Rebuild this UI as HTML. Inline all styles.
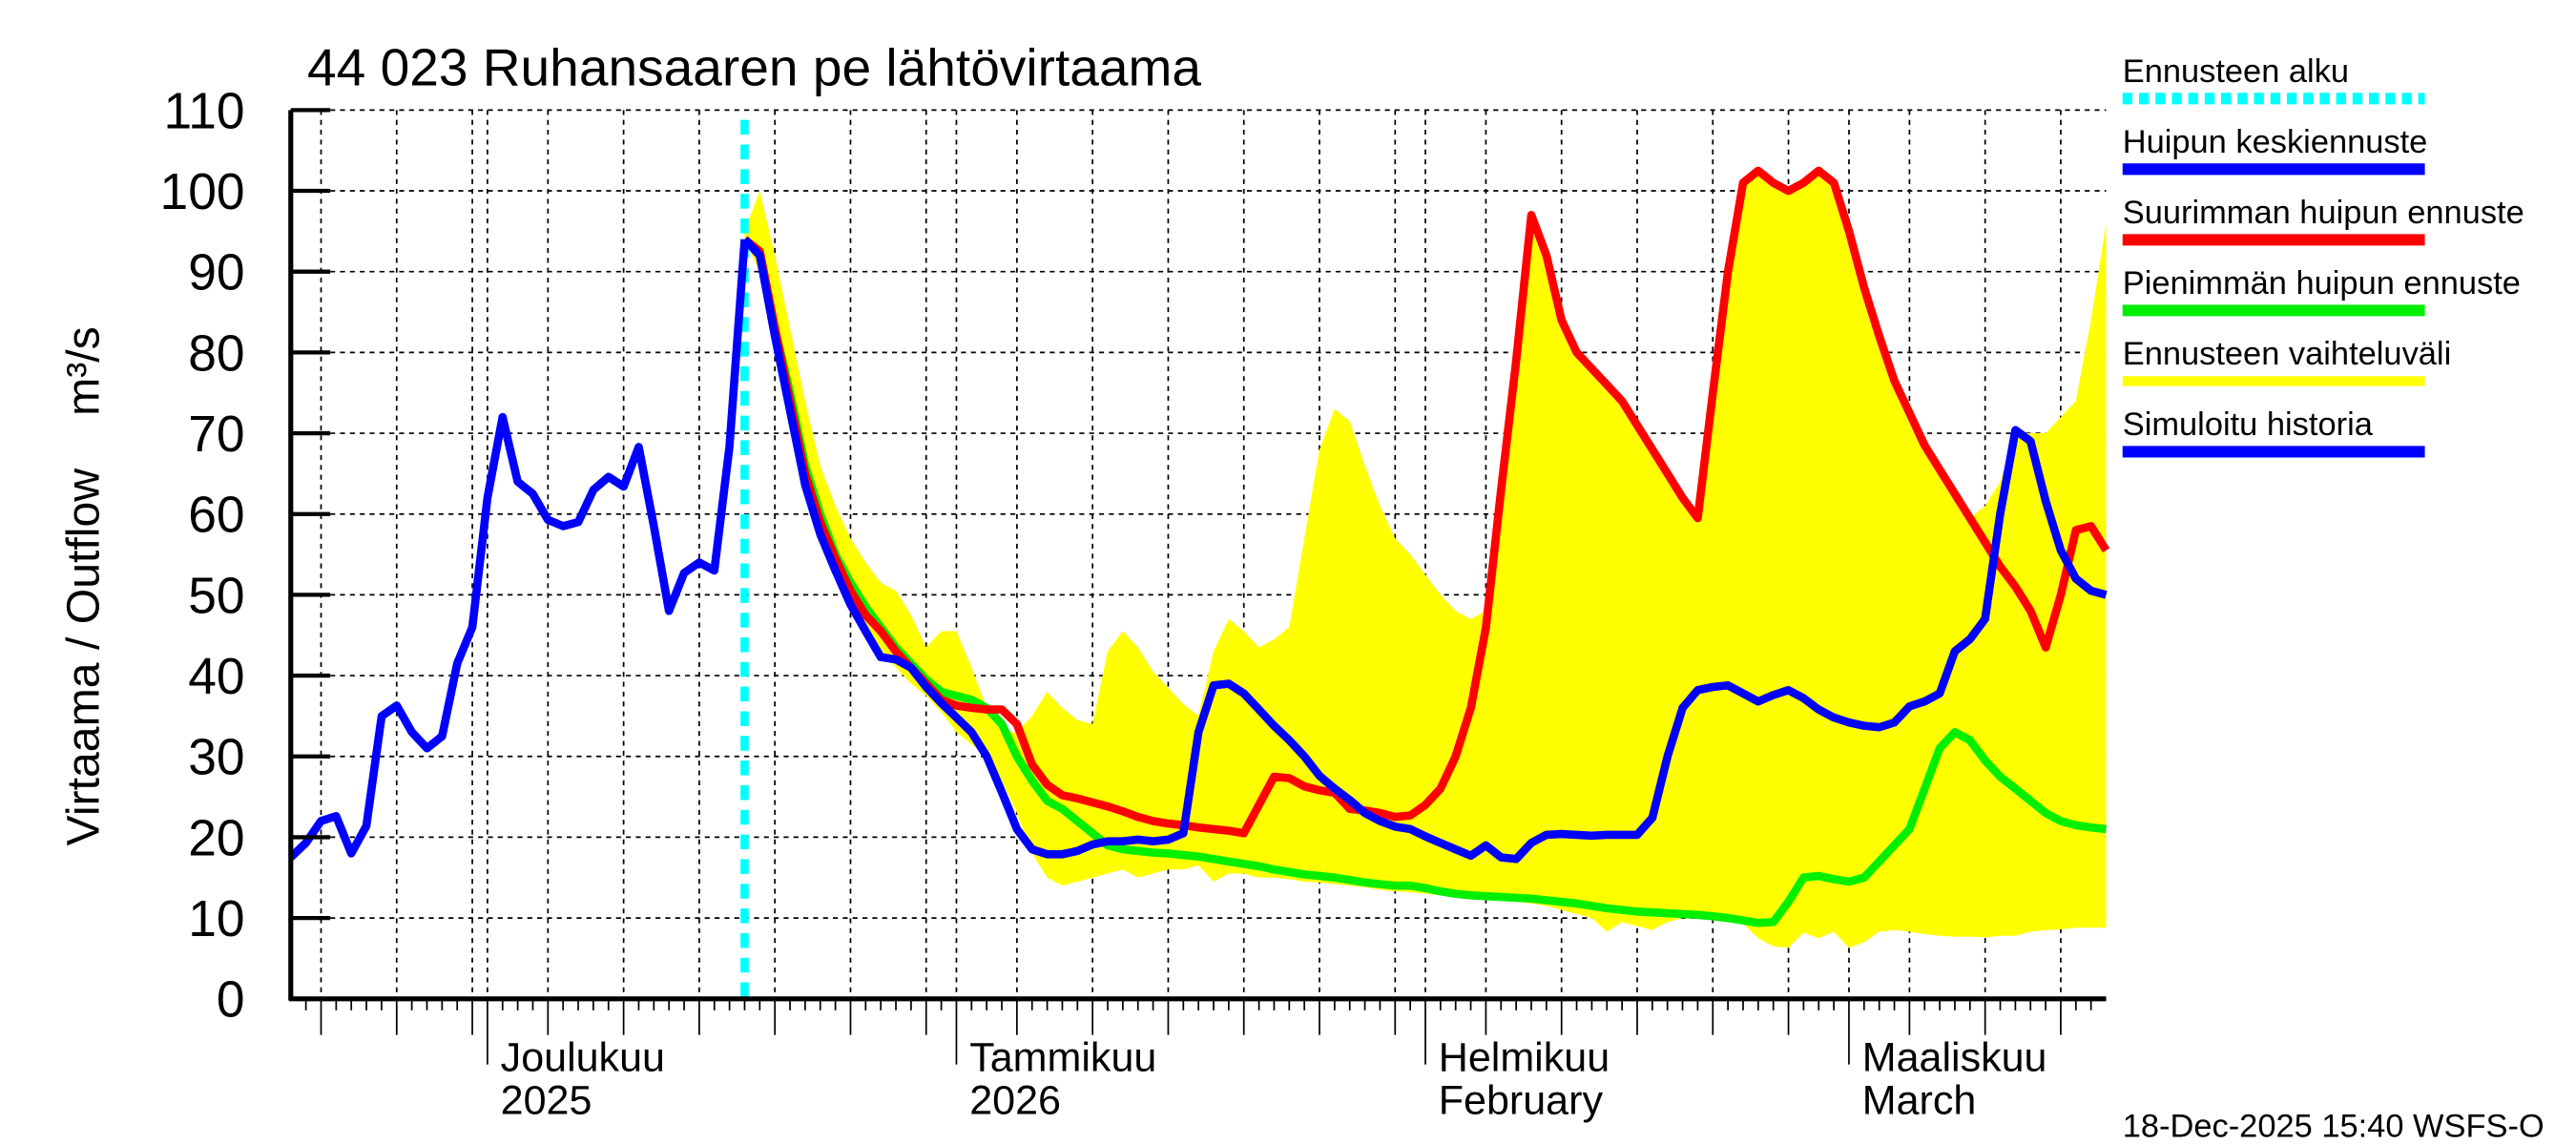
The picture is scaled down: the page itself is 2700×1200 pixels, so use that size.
<!DOCTYPE html>
<html><head><meta charset="utf-8"><style>
html,body{margin:0;padding:0;background:#fff;}
svg{display:block;}
text{font-family:"Liberation Sans",sans-serif;fill:#000;}
</style></head><body>
<svg id="chart" width="2700" height="1200" viewBox="0 0 1568 697" preserveAspectRatio="none" xmlns="http://www.w3.org/2000/svg">
<rect x="0" y="0" width="1568" height="697" fill="#fff"/>
<text x="187" y="52" font-size="32">44 023 Ruhansaaren pe lähtövirtaama</text>
<text transform="translate(60,400) rotate(-90)" text-anchor="middle" font-size="28">Virtaama / Outflow</text>
<text transform="translate(60,226) rotate(-90)" text-anchor="middle" font-size="28">m³/s</text>
<g id="grid"></g>
<g id="band"></g>
<g id="lines"></g>
<g id="axes"></g>
<g id="legend"></g>
<text x="1292" y="692" font-size="20">18-Dec-2025 15:40 WSFS-O</text>
</svg>
<script>
// data: day index 0 = 18 Nov 2025, 120 = 18 Mar 2026
const yTicks = [0,10,20,30,40,50,60,70,80,90,100,110];
const monthStarts = [13,44,75,103];
const monthLabels = [["Joulukuu","2025"],["Tammikuu","2026"],["Helmikuu","February"],["Maaliskuu","March"]];
const forecastStart = 30;
const simulated = [17.5,19.3,22,22.6,18,21.4,35,36.3,33,31,32.5,41.5,46,62,72,64,62.5,59.3,58.5,59,63,64.6,63.4,68.3,58.5,48,52.7,54,53,68.3,94];
const meanForecast = [94,92,82,72.8,63.6,57.5,53,48.8,45.5,42.3,42,41,38.6,36.6,34.8,33,30,25.6,21,18.5,17.9,17.9,18.3,19.1,19.5,19.5,19.7,19.5,19.7,20.5,33,38.8,39,37.8,35.8,33.8,32,30,27.6,26,24.6,23,22,21.3,21,20.1,19.3,18.5,17.7,19,17.5,17.3,19.3,20.3,20.4,20.3,20.2,20.3,20.3,20.3,22.4,30,36,38.2,38.6,38.8,37.8,36.8,37.6,38.2,37.2,35.8,34.8,34.2,33.8,33.6,34.2,36.2,36.8,37.8,43,44.5,47,60,70.4,69,61.6,55.5,52,50.5,50];
const maxForecast = [94,92.5,83,74,65,59,54.5,50.5,47.5,45.5,43,41,39,37,36.3,36,35.8,35.8,34,29,26.5,25.2,24.8,24.3,23.8,23.2,22.5,22,21.7,21.5,21.2,21,20.8,20.5,24,27.5,27.3,26.3,25.8,25.5,23.5,23.3,23,22.5,22.7,24,26,30,36,46,63,79,97,92,84,80,78,76,74,71,68,65,62,59.5,75,90,101,102.5,101,100,101,102.5,101,95,88,82,76.5,72.5,68.5,65.5,62.5,59.5,56.5,53.5,51,48,43.5,50,58,58.5,55.5];
const minForecast = [94,92,83,75,66,60,55,51.5,48.5,46,43.5,41.5,39.5,38,37.5,37,36,34,30,27,24.5,23.5,22,20.5,19,18.5,18.3,18.1,18,17.8,17.6,17.3,17,16.7,16.4,16,15.7,15.4,15.2,15,14.7,14.4,14.2,14,14,13.7,13.3,13,12.8,12.7,12.6,12.5,12.4,12.2,12,11.8,11.5,11.2,11,10.8,10.7,10.6,10.5,10.4,10.2,10,9.7,9.4,9.5,12,15,15.2,14.8,14.5,15,17,19,21,26,31,33,32,29.5,27.5,26,24.5,23,22,21.5,21.2,21];
const rangeUpper = [95,100,92,83,74,66,61,57,54,51.5,50.5,47.5,43.5,45.5,45.5,41,36,33,33,35,38,36,34.5,34,43,45.5,43.5,40.5,38.5,36.5,35,43,47,45.5,43.5,44.5,46,57,68,73,71.5,66,61,57,55,52.5,50,48,47,48,64,80,97,92,84,80,78,76,74,71,68,65,62,59.5,75,90,101,102.5,101,100,101,102.5,101,95,88,82,76.5,72.5,68.5,65.5,62.5,59.5,61,64,70,70,70,72,74,84,96];
const rangeLower = [94,90,82,72,63,57,52.5,48,45,43,41,39,37.5,35.5,33,31.5,30,27,23,18,15,14,14.5,15,15.5,16,15,15.5,16,16,16.5,14.5,15.5,15.5,15,15,14.8,14.5,14.4,14.2,14,13.8,13.5,13.3,13.2,13,12.8,12.6,12.4,12.3,12.2,12,11.8,11.5,11,10.5,10,8.3,9.5,9,8.5,9.5,10,10,10,9.5,9.3,7.5,6.5,6.3,8.2,7.5,8.3,6.3,7,8.3,8.5,8.3,8,7.8,7.7,7.7,7.6,7.8,7.8,8.3,8.5,8.6,8.8,8.8,8.8];

const X0=177, X1=1282, Y0=608, Y1=67, DAYS=120, YMAX=110;
function xs(d){return X0+(X1-X0)*d/DAYS;}
function ys(v){return Y0-(Y0-Y1)*v/YMAX;}
const NS="http://www.w3.org/2000/svg";
function mk(tag,attrs,parent){const e=document.createElementNS(NS,tag);for(const k in attrs)e.setAttribute(k,attrs[k]);parent.appendChild(e);return e;}
const grid=document.getElementById('grid'), band=document.getElementById('band'), lines=document.getElementById('lines'), axes=document.getElementById('axes'), legend=document.getElementById('legend');

yTicks.forEach(v=>{
  if(v===0)return;
  const l=mk('line',{x1:X0,x2:X1,y1:ys(v),y2:ys(v),stroke:'#000','stroke-width':1,'stroke-dasharray':'3,3'},grid);
  
  
});
const monthLen=[30,31,31,28,31];
const vDays=[];
let startD=-17;
for(let m=0;m<5;m++){
  for(let dm=5;dm<=30;dm+=5){ if(dm>monthLen[m]) continue; const d=startD+dm-1; if(d>0&&d<DAYS) vDays.push(d);}
  startD+=monthLen[m];
}
vDays.concat(monthStarts).forEach(d=>{
  const l=mk('line',{x1:xs(d),x2:xs(d),y1:Y1,y2:Y0,stroke:'#000','stroke-width':1,'stroke-dasharray':'3,3'},grid);
  
  
});

let pts=[];
for(let i=0;i<rangeUpper.length;i++) pts.push(xs(forecastStart+i)+','+ys(rangeUpper[i]));
for(let i=rangeLower.length-1;i>=0;i--) pts.push(xs(forecastStart+i)+','+ys(rangeLower[i]));
const poly=mk('polygon',{points:pts.join(' '),fill:'#ffff00',stroke:'none'},band);



const fs=mk('line',{x1:xs(forecastStart),x2:xs(forecastStart),y1:Y1+6,y2:Y0,stroke:'#00ffff','stroke-width':5,'stroke-dasharray':'9,6'},lines);



function series(arr,off,color,name){
  const p=arr.map((v,i)=>xs(off+i).toFixed(1)+','+ys(v).toFixed(1)).join(' ');
  const e=mk('polyline',{points:p,fill:'none',stroke:color,'stroke-width':5,'stroke-linejoin':'round'},lines);
  
  
}
series(minForecast,forecastStart,'#00ee00','min-peak-forecast-line');
series(maxForecast,forecastStart,'#ff0000','max-peak-forecast-line');
series(meanForecast,forecastStart,'#0000ff','mean-peak-forecast-line');
series(simulated,0,'#0000ff','simulated-history-line');

const ya=mk('line',{x1:X0,x2:X0,y1:Y1,y2:Y0+1,stroke:'#000','stroke-width':3},axes);


const xa=mk('line',{x1:X0-1,x2:X1,y1:Y0,y2:Y0,stroke:'#000','stroke-width':3},axes);


yTicks.forEach(v=>{
  const t=mk('line',{x1:X0,x2:X0+24,y1:ys(v),y2:ys(v),stroke:'#000','stroke-width':2.5},axes);
  
  
  const lb=mk('text',{x:149,y:ys(v)+11,'text-anchor':'end','font-size':31},axes);
  lb.textContent=String(v);
  
  
});
for(let d=1;d<DAYS;d++){
  let len=7;
  if(vDays.includes(d)) len=22;
  if(monthStarts.includes(d)) len=40;
  const t=mk('line',{x1:xs(d),x2:xs(d),y1:Y0,y2:Y0+len,stroke:'#000','stroke-width':1},axes);
  
  
}
monthStarts.forEach((d,i)=>{
  const a=mk('text',{x:xs(d)+8,y:652,'font-size':25},axes);
  a.textContent=monthLabels[i][0];
  
  
  const b=mk('text',{x:xs(d)+8,y:678,'font-size':25},axes);
  b.textContent=monthLabels[i][1];
  
  
});

const legNames=["Ennusteen alku","Huipun keskiennuste","Suurimman huipun ennuste","Pienimmän huipun ennuste","Ennusteen vaihteluväli","Simuloitu historia"];
const legColors=['#00ffff','#0000ff','#ff0000','#00ee00','#ffff00','#0000ff'];
legNames.forEach((n,i)=>{
  const y=50+i*43;
  const t=mk('text',{x:1292,y:y,'font-size':20},legend);
  t.textContent=n;
  
  
  const attrs={x1:1292,x2:1476,y1:y+10,y2:y+10,stroke:legColors[i],'stroke-width':i===4?6:7};
  if(i===0) attrs['stroke-dasharray']='6,4';
  const l=mk('line',attrs,legend);
  
  
});
</script>
</body></html>
